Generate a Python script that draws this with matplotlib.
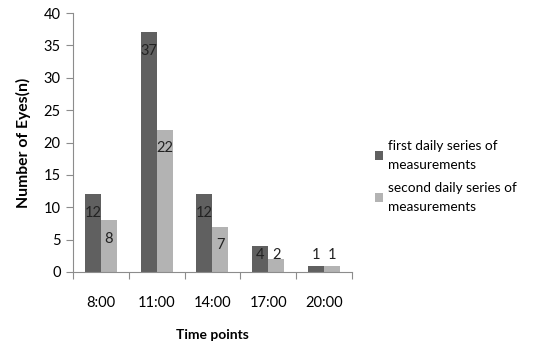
import numpy as np
import matplotlib.pyplot as plt

plt.rcParams['font.family'] = ['Lato', 'DejaVu Sans']

# data
times = ['8:00', '11:00', '14:00', '17:00', '20:00']
first_series = [12, 37, 12, 4, 1]
second_series = [8, 22, 7, 2, 1]
labels = ['first daily series of\nmeasurements', 'second daily series of\nmeasurements']

dark = '#606060'
light = '#b3b3b3'
axis_col = '#8c8c8c'

fig = plt.figure(figsize=(5.33, 3.53), dpi=100)
ax = fig.add_axes([0.137, 0.2295, 0.523, 0.7335])

x = np.arange(len(times))
w = 0.286
b1 = ax.bar(x - w / 2, first_series, w, color=dark, label=labels[0])
b2 = ax.bar(x + w / 2, second_series, w, color=light, label=labels[1])

# value labels, inside end like excel, pushed up when bar is short
for bars, vals in [(b1, first_series), (b2, second_series)]:
    for r, v in zip(bars, vals):
        ax.text(r.get_x() + r.get_width() / 2, max(v - 2.9, 2.6), str(v),
                ha='center', va='center', fontsize=10.5, color='#222222')

ax.set_xlim(-0.5, len(times) - 0.5)
ax.set_ylim(0, 40)
ax.set_yticks(range(0, 41, 5))
ax.set_xticks(np.arange(-0.5, len(times), 1))
ax.set_xticklabels([])
ax.set_xticks(x, minor=True)
ax.set_xticklabels(times, minor=True)
ax.tick_params(axis='x', which='major', length=5, direction='out', color=axis_col)
ax.tick_params(axis='x', which='minor', length=0, pad=17, labelsize=10.5)
ax.tick_params(axis='y', length=5, direction='out', color=axis_col, labelsize=10.5, pad=4)

for s in ['top', 'right']:
    ax.spines[s].set_visible(False)
for s in ['left', 'bottom']:
    ax.spines[s].set_color(axis_col)

ax.set_ylabel('Number of Eyes(n)', fontweight='bold', fontsize=11.3, labelpad=9)
ax.set_xlabel('Time points', fontweight='bold', fontsize=10, labelpad=14)

leg = fig.legend(loc='center left', bbox_to_anchor=(0.68, 0.5), frameon=False,
                 fontsize=9.8, handlelength=0.6, handleheight=0.6, handletextpad=0.4,
                 labelspacing=0.8)
for t in leg.get_texts():
    t.set_linespacing(1.7)

fig.savefig('out.png', dpi=100)
